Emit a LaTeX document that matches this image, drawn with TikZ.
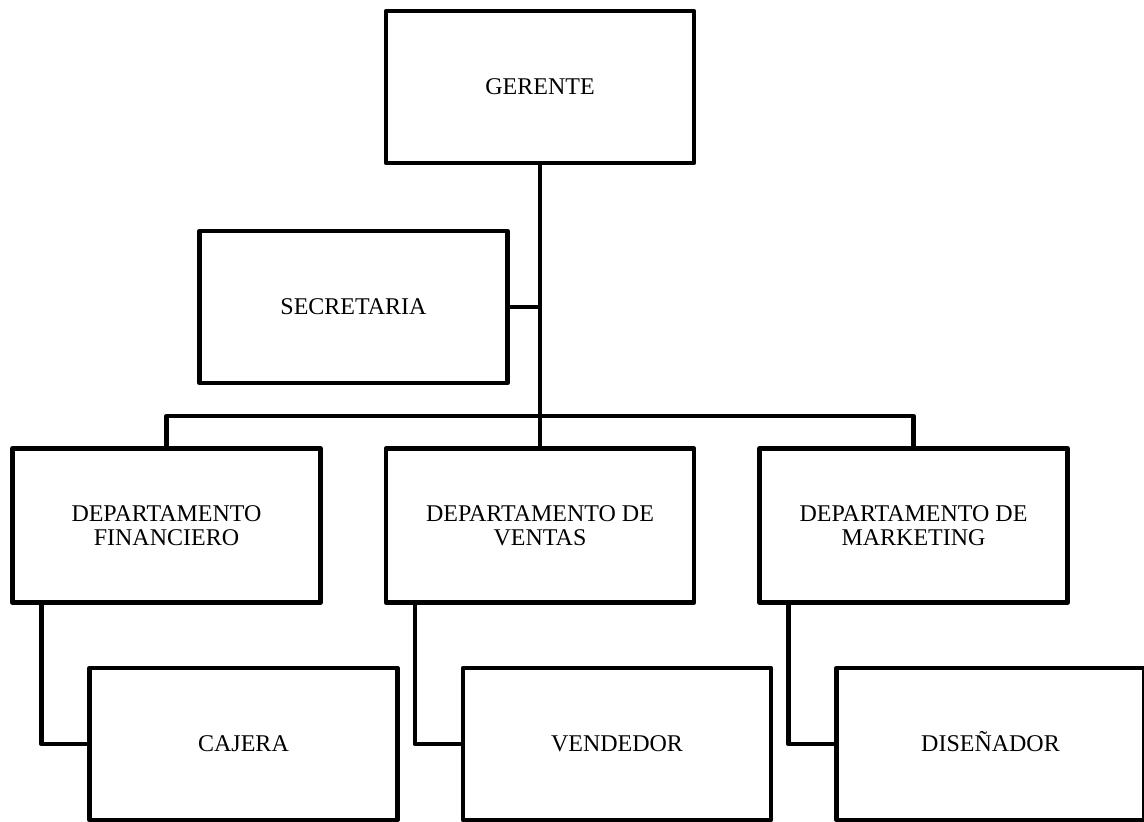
\documentclass[tikz,border=0pt]{standalone}
\usepackage{fontspec}
\setmainfont{Liberation Serif}
\usetikzlibrary{calc}

\begin{document}
\begin{tikzpicture}[x=0.5pt, y=-0.5pt,
    puesto/.style = {draw, line width=2.25pt, line join=round, fill=white,
        minimum width=154pt, minimum height=76pt, align=center,
        font=\fontsize{12}{12.2}\selectfont},
    unalinea/.style = {puesto, text height=9.5pt, text depth=2pt},
    linea/.style = {line width=2.25pt, line join=round}]
    \useasboundingbox (0,0) rectangle (1144,821);
    \node[unalinea] (ger) at (540,87) {GERENTE};
    \node[unalinea] (sec) at (353.5,307) {SECRETARIA};
    \node[puesto, minimum height=77pt] (fin) at (166.5,525.5) {DEPARTAMENTO\\FINANCIERO};
    \node[puesto, minimum height=77pt] (ven) at (540,525.5) {DEPARTAMENTO DE\\VENTAS};
    \node[puesto, minimum height=77pt] (mkt) at (913.5,525.5) {DEPARTAMENTO DE\\MARKETING};
    \node[unalinea] (caj) at (243.5,744) {CAJERA};
    \node[unalinea] (vnd) at (617,744) {VENDEDOR};
    \node[unalinea] (dis) at (990.5,744) {DISEÑADOR};
    \coordinate (bus) at (540,416);
    \draw[linea] (ger.south) -- (ven.north);
    \draw[linea] (sec.east) -- (sec.east -| ger.south);
    \draw[linea] (fin.north) |- (bus) -| (mkt.north);
    \draw[linea] ($(fin.south west)+(31,0)$) |- (caj.west);
    \draw[linea] ($(ven.south west)+(31,0)$) |- (vnd.west);
    \draw[linea] ($(mkt.south west)+(31,0)$) |- (dis.west);
\end{tikzpicture}
\end{document}
